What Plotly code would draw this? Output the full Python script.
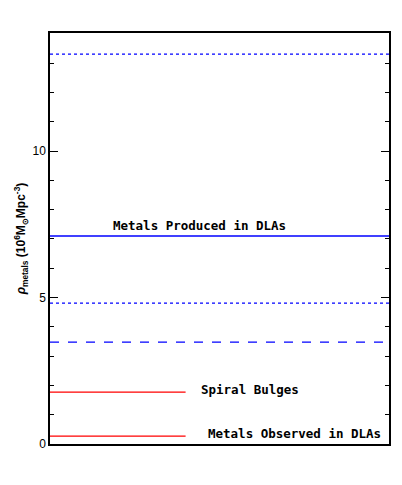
import plotly.graph_objects as go

# horizontal levels (10^6 Msun Mpc^-3)
levels = [13.31, 7.10, 4.81, 3.48, 1.77, 0.27]
colors = ["blue", "blue", "blue", "blue", "red", "red"]
dashes = ["dot", "solid", "dot", "dash", "solid", "solid"]
x_ends = [1.0, 1.0, 1.0, 1.0, 0.40, 0.40]
labels = ["", "Metals Produced in DLAs", "", "", "Spiral Bulges", "Metals Observed in DLAs"]
label_x = [0, 0.44, 0, 0, 0.59, 0.72]
label_shift = [0, 11, 0, 0, 3, 3]

fig = go.Figure()
for y, c, d, xe in zip(levels, colors, dashes, x_ends):
    fig.add_trace(go.Scatter(x=[0, xe], y=[y, y], mode="lines",
                             line=dict(color=c, dash=d, width=1.3), showlegend=False))
for y, t, lx, sh in zip(levels, labels, label_x, label_shift):
    if t:
        fig.add_annotation(x=lx, y=y, text=f"<b>{t}</b>", showarrow=False, yshift=sh,
                           font=dict(family="DejaVu Sans Mono, monospace", size=12.5, color="black"))

fig.update_layout(
    width=402, height=485, margin=dict(l=42, r=21, t=25, b=49),
    plot_bgcolor="white", paper_bgcolor="white", showlegend=False,
    xaxis=dict(range=[0, 1], showticklabels=False, ticks="", showgrid=False, zeroline=False,
               showline=True, linecolor="black", linewidth=1.5, mirror=True, automargin=False),
    yaxis=dict(range=[0, 14.03], tickvals=[0, 5, 10], ticks="inside", ticklen=8,
               tickwidth=1.2, tickcolor="black", showgrid=False, zeroline=False,
               showline=True, linecolor="black", linewidth=1.5, mirror="ticks", automargin=False,
               minor=dict(dtick=1, ticks="inside", ticklen=4, tickcolor="black"),
               tickfont=dict(family="Liberation Sans", size=12, color="black"),
               title=dict(text="<b><i>ρ</i><sub>metals</sub> (10<sup>6</sup>M<sub>⊙</sub>Mpc<sup>-3</sup>)</b>",
                          font=dict(family="Liberation Sans", size=12, color="black"), standoff=4)),
)
fig.write_html("out.html")
